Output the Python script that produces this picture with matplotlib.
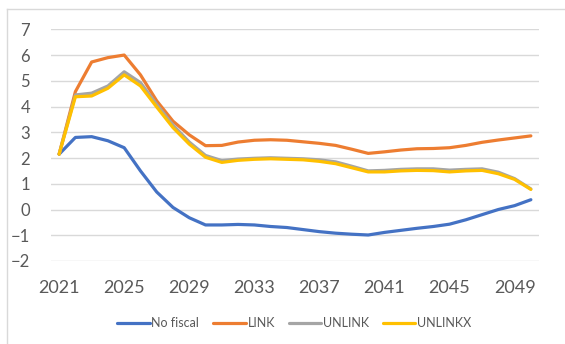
import matplotlib.pyplot as plt
from matplotlib.lines import Line2D

plt.rcParams['font.family'] = ['Lato', 'DejaVu Sans']

years = list(range(2021, 2051))

no_fiscal = [2.15, 2.8, 2.83, 2.67, 2.4, 1.5, 0.68, 0.08, -0.32, -0.6,
             -0.6, -0.58, -0.6, -0.66, -0.7, -0.78, -0.86, -0.92, -0.96, -0.99,
             -0.89, -0.81, -0.73, -0.66, -0.57, -0.4, -0.2, 0.0, 0.15, 0.38]
link = [2.15, 4.58, 5.73, 5.9, 6.0, 5.23, 4.22, 3.43, 2.9, 2.48,
        2.49, 2.62, 2.69, 2.71, 2.69, 2.63, 2.57, 2.49, 2.34, 2.18,
        2.24, 2.31, 2.36, 2.37, 2.4, 2.49, 2.61, 2.7, 2.78, 2.86]
unlink = [2.15, 4.45, 4.52, 4.8, 5.35, 4.93, 4.08, 3.28, 2.62, 2.1,
          1.9, 1.96, 1.99, 2.01, 1.99, 1.97, 1.93, 1.85, 1.68, 1.5,
          1.52, 1.56, 1.58, 1.58, 1.53, 1.56, 1.58, 1.45, 1.2, 0.8]
unlinkx = [2.15, 4.38, 4.41, 4.71, 5.23, 4.8, 3.98, 3.18, 2.54, 2.03,
           1.83, 1.91, 1.95, 1.97, 1.95, 1.93, 1.87, 1.78, 1.62, 1.46,
           1.46, 1.5, 1.52, 1.51, 1.46, 1.5, 1.52, 1.39, 1.17, 0.78]

series = [('No fiscal', no_fiscal, '#4472C4'),
          ('LINK', link, '#ED7D31'),
          ('UNLINK', unlink, '#A5A5A5'),
          ('UNLINKX', unlinkx, '#FFC000')]

text_color = '#595959'

fig = plt.figure(figsize=(5.65, 3.44), dpi=100)
ax = fig.add_axes([51 / 565, 0.2413, 488 / 565, 0.6735])

for name, values, color in series:
    ax.plot(years, values, color=color, lw=2.3, label=name,
            solid_joinstyle='round', solid_capstyle='round')

ax.set_xlim(2020.5, 2050.5)
ax.set_ylim(-2, 7)
ax.set_yticks(range(-2, 8))
ax.set_xticks(range(2021, 2050, 4))
ax.grid(axis='y', color='#D9D9D9', lw=1.0)
ax.set_axisbelow(True)
for s in ax.spines.values():
    s.set_visible(False)
ax.tick_params(axis='y', length=0, pad=15, labelsize=12, labelcolor=text_color)
ax.tick_params(axis='x', length=0, pad=14, labelsize=13, labelcolor=text_color)

# chart area border (top and left edge)
fig.add_artist(Line2D([7 / 565, 1.0], [1 - 9 / 344, 1 - 9 / 344],
                      color='#D9D9D9', lw=1.0))
fig.add_artist(Line2D([7 / 565, 7 / 565], [0.0, 1 - 9 / 344],
                      color='#D9D9D9', lw=1.0))

handles, labels = ax.get_legend_handles_labels()
fig.legend(handles, labels, loc='center', bbox_to_anchor=(0.521, 0.061),
           ncol=4, frameon=False, fontsize=9, handlelength=2.6,
           handletextpad=0.15, columnspacing=1.1, labelcolor=text_color)

fig.savefig('out.png', dpi=100)
